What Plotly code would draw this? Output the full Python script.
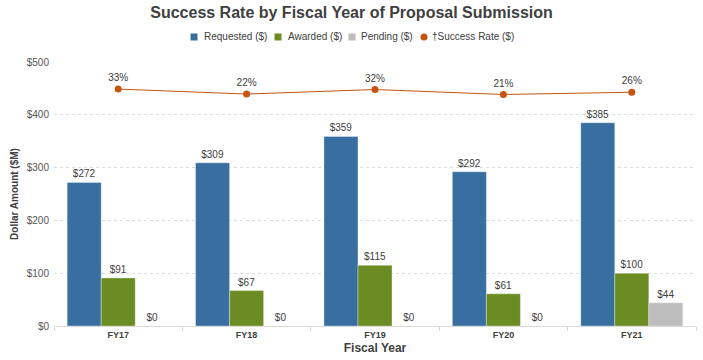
import plotly.graph_objects as go

categories = ["FY17", "FY18", "FY19", "FY20", "FY21"]
requested = [272, 309, 359, 292, 385]
awarded = [91, 67, 115, 61, 100]
pending = [0, 0, 0, 0, 44]
success_rate = [33, 22, 32, 21, 26]

legend_names = ["Requested ($)", "Awarded ($)", "Pending ($)", "†Success Rate ($)"]
colors = ["#386ea0", "#6a8c22", "#bdbdbd", "#c8530e"]

FONT = "Liberation Sans, Arial, sans-serif"
TXT = "#404040"

W, H = 703, 360
ML, MR, MT, MB = 54, 7, 62, 34
PW, PH = W - ML - MR, H - MT - MB


def xp(px):
    return (px - ML) / PW


def yp(py):
    return (H - MB - py) / PH


fig = go.Figure()


def bar(name, vals, color):
    return go.Bar(
        name=name, x=categories, y=vals,
        marker=dict(color=color, line=dict(color="rgba(255,255,255,0.35)", width=1)),
        text=[f"${v}" for v in vals], textposition="outside",
        textfont=dict(family=FONT, size=10, color=TXT),
        cliponaxis=False, showlegend=False,
    )


fig.add_trace(bar(legend_names[0], requested, colors[0]))
fig.add_trace(bar(legend_names[1], awarded, colors[1]))
fig.add_trace(bar(legend_names[2], pending, colors[2]))

fig.add_trace(go.Scatter(
    x=categories, y=success_rate, yaxis="y2", mode="lines+markers+text",
    name=legend_names[3],
    line=dict(color=colors[3], width=1), marker=dict(color=colors[3], size=7),
    text=[f"{v}%" for v in success_rate], textposition="top center",
    textfont=dict(family=FONT, size=10, color=TXT),
    showlegend=False, cliponaxis=False,
))

# manual compact legend (symbol + text), positioned in pixels
legend_sym_x = [194, 278, 352, 424]
legend_txt_x = [203, 287, 360, 431]
legend_y = 37
shapes = []
annotations = []
for i, name in enumerate(legend_names):
    cx = legend_sym_x[i]
    shapes.append(dict(type="rect" if i < 3 else "circle", xref="paper", yref="paper",
                       x0=xp(cx - 3.5), x1=xp(cx + 3.5),
                       y0=yp(legend_y + 3.5), y1=yp(legend_y - 3.5),
                       fillcolor=colors[i], line=dict(width=0)))
    annotations.append(dict(text=name, xref="paper", yref="paper",
                            x=xp(legend_txt_x[i]), y=yp(legend_y),
                            xanchor="left", yanchor="middle", showarrow=False,
                            font=dict(family=FONT, size=10, color=TXT), borderpad=0))

fig.update_layout(
    width=W, height=H,
    margin=dict(l=ML, r=MR, t=MT, b=MB, autoexpand=False),
    paper_bgcolor="white", plot_bgcolor="white",
    barmode="group", bargap=0.205, bargroupgap=0,
    font=dict(family=FONT, size=10, color=TXT),
    showlegend=False,
    title=dict(text="<b>Success Rate by Fiscal Year of Proposal Submission</b>",
               x=0.5, xanchor="center", yref="container", y=1 - 12 / H, yanchor="middle",
               font=dict(family=FONT, size=16, color=TXT)),
    shapes=shapes,
    annotations=annotations,
    xaxis=dict(
        showgrid=False, showline=True, linecolor="#d9d9d9", linewidth=1,
        ticks="outside", tickson="boundaries", ticklen=4, tickcolor="#d9d9d9",
        tickfont=dict(family=FONT, size=9, color=TXT),
        tickprefix="<b>", ticksuffix="</b>",
        title=dict(text="<b>Fiscal Year</b>", font=dict(family=FONT, size=12, color=TXT), standoff=4),
    ),
    yaxis=dict(
        range=[0, 500], dtick=100, tickprefix="$",
        showgrid=True, gridcolor="#dddddd", griddash="dot", gridwidth=1,
        zeroline=False, showline=False,
        tickfont=dict(family=FONT, size=10, color="#555555"),
        ticklabelstandoff=4,
        title=dict(text="<b>Dollar Amount ($M)</b>", font=dict(family=FONT, size=10, color=TXT), standoff=6),
    ),
    yaxis2=dict(overlaying="y", range=[-492, 93], visible=False, showgrid=False),
)

fig.write_html("out.html", config={"displayModeBar": False},
               post_script="document.body.style.margin='0';")
